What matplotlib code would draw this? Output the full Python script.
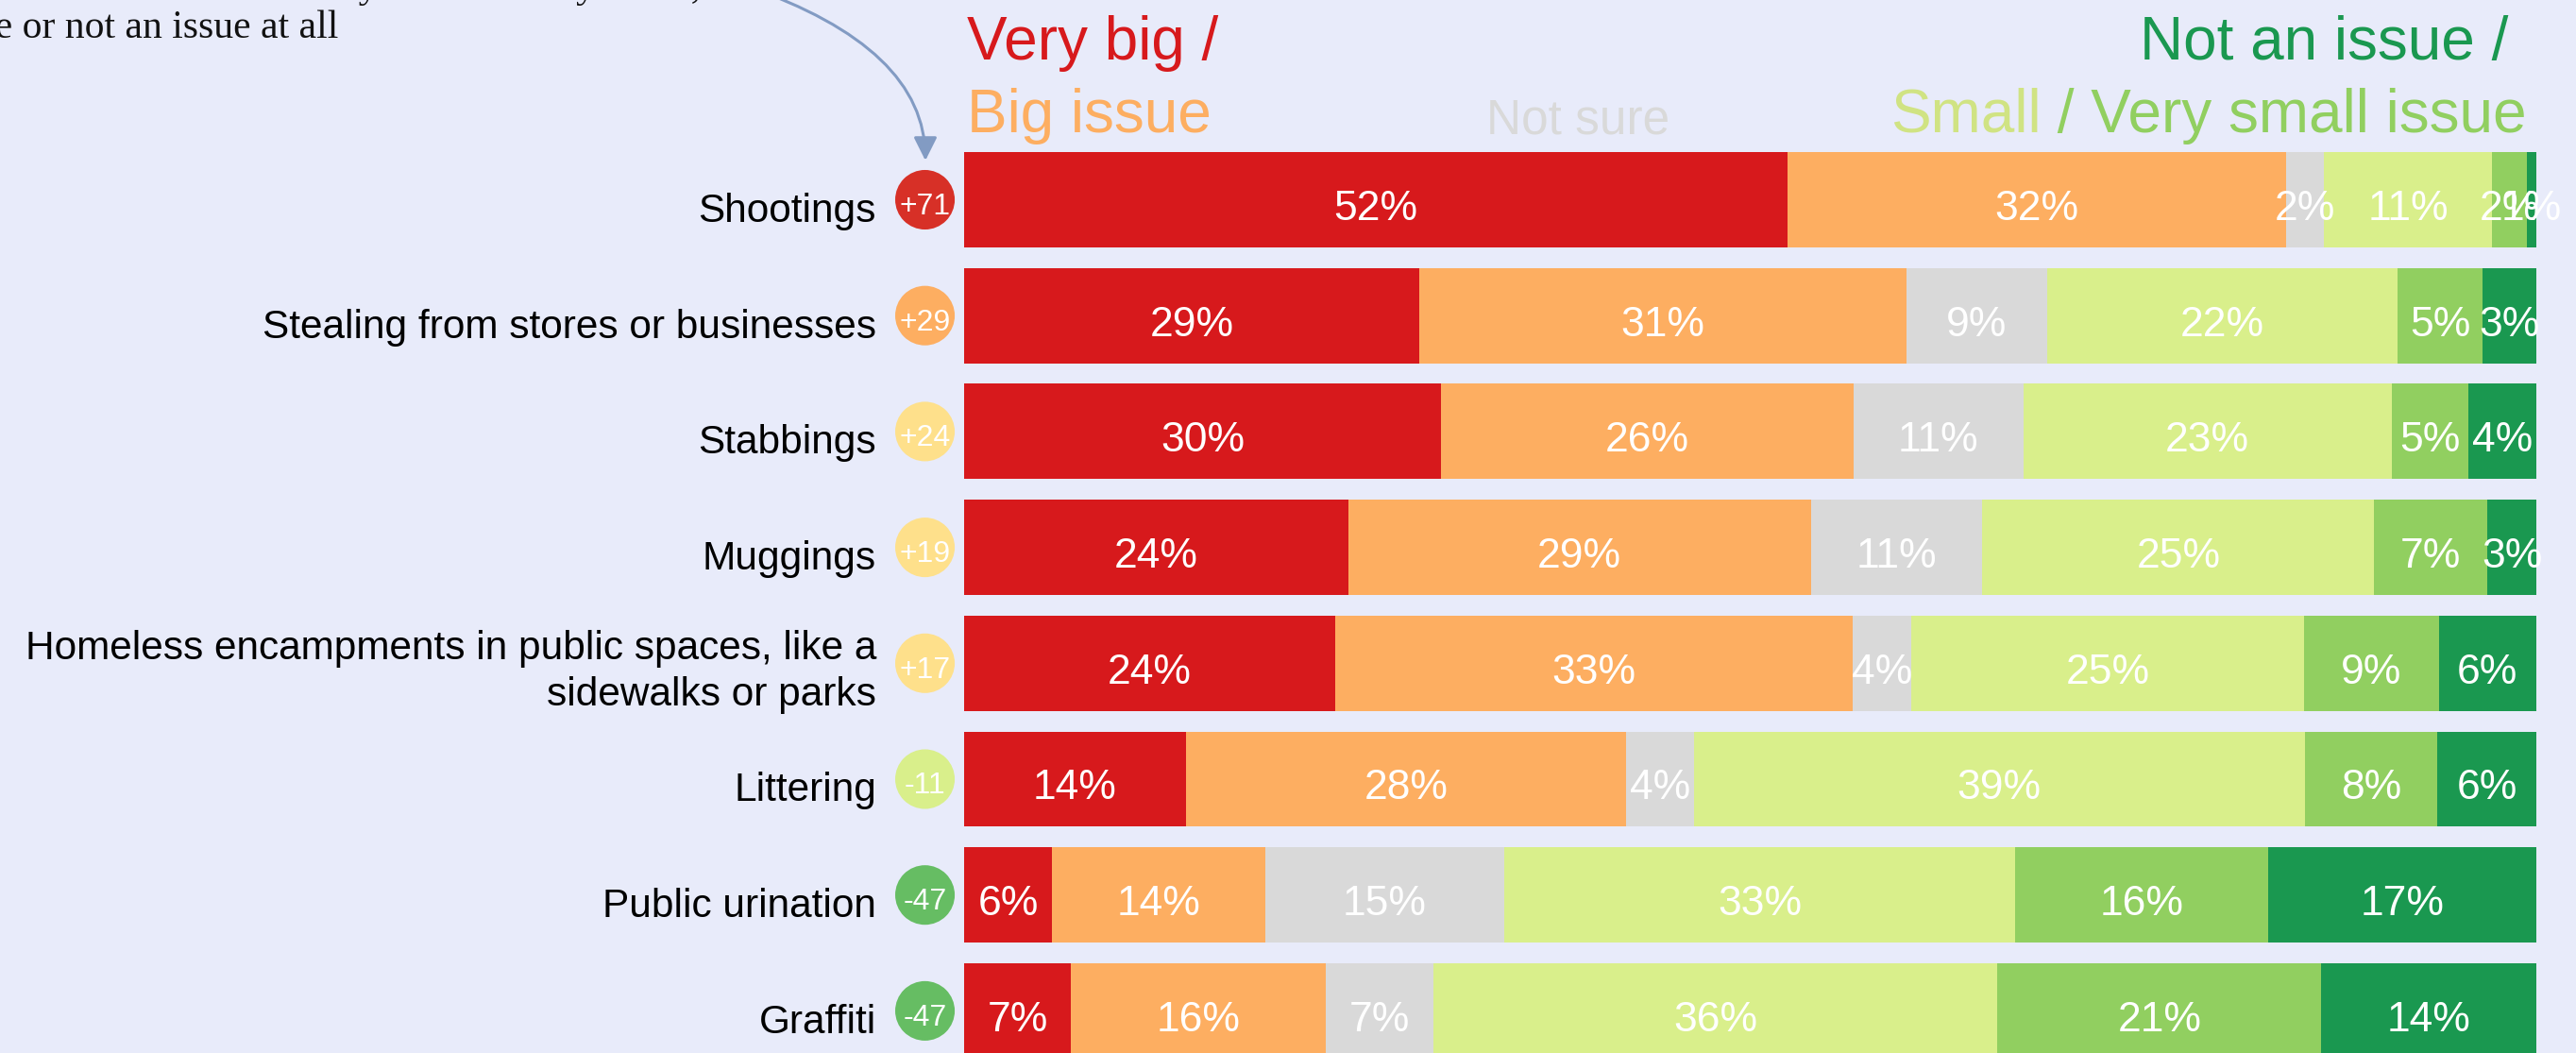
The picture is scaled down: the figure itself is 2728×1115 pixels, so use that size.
import numpy as np
import matplotlib
matplotlib.use('Agg')
from matplotlib import pyplot as plt

# Data (shares in %; labels show them rounded)

categories = ['Shootings', 'Stealing from stores or businesses', 'Stabbings', 'Muggings',
              'Homeless encampments in public spaces, like a\nsidewalks or parks',
              'Littering', 'Public urination', 'Graffiti']
very_big = [52.4, 28.9, 30.3, 24.4, 23.6, 14.1, 5.6, 6.8]
big = [31.7, 31.0, 26.2, 29.4, 33.0, 28.0, 13.6, 16.2]
not_sure = [2.4, 8.9, 10.8, 10.9, 3.7, 4.3, 15.2, 6.9]
small = [10.7, 22.3, 23.4, 24.9, 25.0, 38.9, 32.6, 35.9]
very_small = [2.2, 5.4, 4.9, 7.2, 8.6, 8.4, 16.1, 20.6]
not_issue = [0.6, 3.4, 4.3, 3.1, 6.2, 6.3, 17.1, 13.7]
net_score = [71, 29, 24, 19, 17, -11, -47, -47]

# Styles

W, H = 2728, 1115
BG = '#e8ebfa'
series_colors = ['#d7191c', '#fdae61', '#d9d9d9', '#d9ef8b', '#91cf60', '#1a9850']
badge_colors = ['#d73027', '#fdae61', '#fee08b', '#fee08b', '#fee08b', '#d9ef8b', '#66bd63', '#66bd63']

plt.rcParams['font.family'] = ['Liberation Sans', 'DejaVu Sans']

fig = plt.figure(figsize=(W / 100, H / 100), dpi=100, facecolor=BG)
ax = fig.add_axes([1021 / W, 0, 1665 / W, 1])
ax.axis('off')

rows = np.arange(len(categories))
all_series = [very_big, big, not_sure, small, very_small, not_issue]
totals = np.sum(np.array(all_series), axis=0)

# Stacked bars, each row scaled to full width

left = np.zeros(len(categories))
for series, color in zip(all_series, series_colors):
    widths = np.array(series) / totals * 100
    ax.barh(rows, widths, left=left, height=0.823, color=color, linewidth=0)
    for r, w, l, v in zip(rows, widths, left, series):
        ax.text(l + w / 2, r + 0.175, f'{round(v)}%', ha='center', va='baseline',
                color='white', fontsize=32)
    left += widths

ax.set_xlim(0, 100)
ax.set_ylim(7.3635, -1.7237)

# Net score badges and category labels

ytrans = ax.get_yaxis_transform()
ax.scatter(np.full(len(rows), -0.0249), rows, s=2061, c=badge_colors, linewidths=0,
           transform=ytrans, clip_on=False, zorder=3)
for r, v in zip(rows, net_score):
    ax.text(-0.0249, r + 0.126, f'{v:+d}', transform=ytrans, ha='center', va='baseline',
            color='white', fontsize=23, zorder=4)
for r, cat in zip(rows, categories):
    # baseline of the last line; two-line labels sit a bit lower
    off = 0.19 + 0.174 * cat.count('\n')
    ax.text(-0.0559, r + off, cat, transform=ytrans, ha='right', va='baseline',
            fontsize=30.5, linespacing=1.3)

# Header legend


def px(x, y):
    return x / W, 1 - y / H


fig.text(*px(1024, 63), 'Very big /', color='#d7191c', fontsize=46)
fig.text(*px(1024, 140), 'Big issue', color='#fdae61', fontsize=46)
fig.text(*px(1671, 142), 'Not sure', color='#d9d9d9', fontsize=37, ha='center')
fig.text(*px(2656, 63), 'Not an issue /', color='#1a9850', fontsize=46, ha='right')
t_vs = fig.text(*px(2676, 140), ' / Very small issue', color='#91cf60', fontsize=46, ha='right')
ax.annotate('Small', xy=(0, 0), xycoords=t_vs, ha='right', va='bottom',
            color='#d0e383', fontsize=46)

# Cut-off note in the top left corner, with its arrow

serif = ['Liberation Serif', 'DejaVu Serif']
fig.text(*px(742, -3), 'Net score = % who say very big or big issue minus those who say small or very small,',
         ha='right', fontsize=30, family=serif, color='#111111')
fig.text(*px(358, 40), 'small issue or not an issue at all',
         ha='right', fontsize=30, family=serif, color='#111111')
ax.annotate('', xy=(980, H - 170), xycoords='figure pixels',
            xytext=(790, H + 15), textcoords='figure pixels',
            arrowprops=dict(arrowstyle='-|>,head_length=0.6,head_width=0.3',
                            connectionstyle='angle3,angleA=-19,angleB=90',
                            color='#829bc3', lw=2.2, shrinkA=0, shrinkB=0, mutation_scale=25))

fig.savefig('out.png', dpi=100, facecolor=BG)
